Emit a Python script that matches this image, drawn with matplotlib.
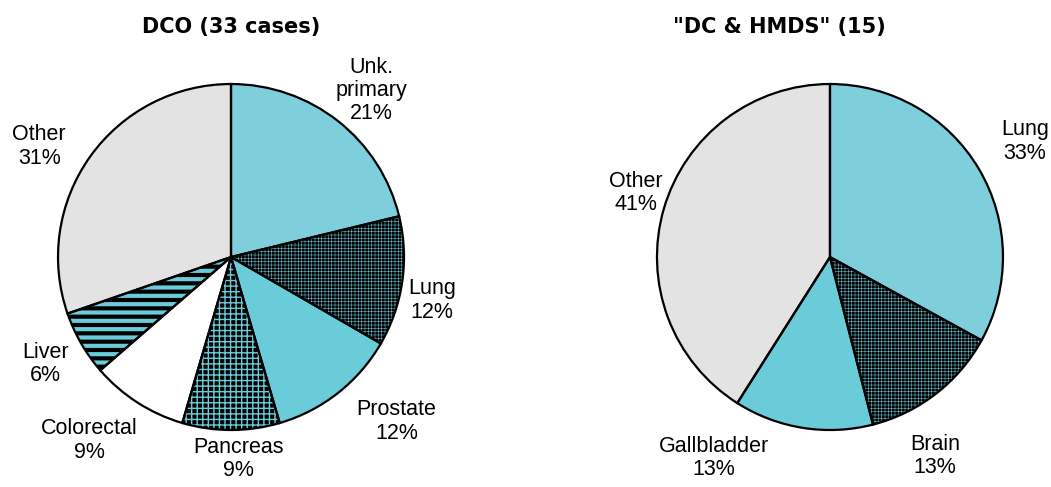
import numpy as np
import matplotlib
matplotlib.use("Agg")
import matplotlib.pyplot as plt

# left chart: DCO (33 cases)
dco_labels = ["Unk.\nprimary", "Lung", "Prostate", "Pancreas", "Colorectal", "Liver", "Other"]
dco_counts = [7, 4, 4, 3, 3, 2, 10]
dco_pct = ["21%", "12%", "12%", "9%", "9%", "6%", "31%"]

# right chart: "DC & HMDS" (15)
dc_labels = ["Lung", "Brain", "Gallbladder", "Other"]
dc_values = [33, 13, 13, 41]
dc_pct = ["33%", "13%", "13%", "41%"]

CYAN = "#6ACBD9"
LIGHT = "#7ECFDB"
GREY = "#E3E3E3"

# style per slice: (facecolor, hatch, hatch linewidth)
dco_style = [(LIGHT, None, 0), ("#000000", "+++++", 0.35), (CYAN, None, 0),
             ("#000000", "+++", 1.0), ("white", None, 0), ("#000000", "--", 3.0),
             (GREY, None, 0)]
dc_style = [(LIGHT, None, 0), ("#000000", "+++++", 0.35), (CYAN, None, 0), (GREY, None, 0)]

# label placement: (angle shift in deg, distance)
dco_lab = [(-2, 1.26), (-4, 1.19), (7, 1.35), (2, 1.17), (-5, 1.34), (0, 1.24), (5.5, 1.28)]
dc_lab = [(0, 1.31), (-10, 1.30), (-21, 1.34), (-2, 1.18)]

plt.rcParams['font.family'] = ['Liberation Sans', 'DejaVu Sans']

fig = plt.figure(figsize=(10.51, 4.87), dpi=100)


def draw_pie(ax, values, names, pcts, styles, labpos, title, title_x):
    wedges, _ = ax.pie(values, startangle=90, counterclock=False, radius=1,
                       wedgeprops=dict(linewidth=0))
    for w, (fc, hatch, hlw) in zip(wedges, styles):
        w.set_facecolor(fc)
        if hatch:
            w.set_hatch(hatch)
            w.set_edgecolor(CYAN)
            if hasattr(w, "set_hatch_linewidth"):
                w.set_hatch_linewidth(hlw)
    # black outlines on top
    ax.pie(values, startangle=90, counterclock=False, radius=1,
           wedgeprops=dict(fill=False, edgecolor="black", linewidth=1.6))
    for w, name, p, (shift, dist) in zip(wedges, names, pcts, labpos):
        ang = np.deg2rad((w.theta1 + w.theta2) / 2 + shift)
        ax.text(dist * np.cos(ang), dist * np.sin(ang), name + "\n" + p,
                ha="center", va="center", fontsize=15.5, linespacing=1.15)
    ax.text(title_x, 1.33, title, ha="center", va="center", fontsize=15,
            fontweight="bold", family="DejaVu Sans")
    ax.set_xlim(-1, 1)
    ax.set_ylim(-1, 1)
    ax.set_aspect("equal")
    ax.axis("off")


ax1 = fig.add_axes([0.0552, 0.117, 0.3292, 0.7105])
draw_pie(ax1, dco_counts, dco_labels, dco_pct, dco_style, dco_lab, "DCO (33 cases)", 0.0)

ax2 = fig.add_axes([0.6251, 0.117, 0.3292, 0.7105])
draw_pie(ax2, dc_values, dc_labels, dc_pct, dc_style, dc_lab, '"DC & HMDS" (15)', -0.295)

fig.savefig("out.png", dpi=100)
